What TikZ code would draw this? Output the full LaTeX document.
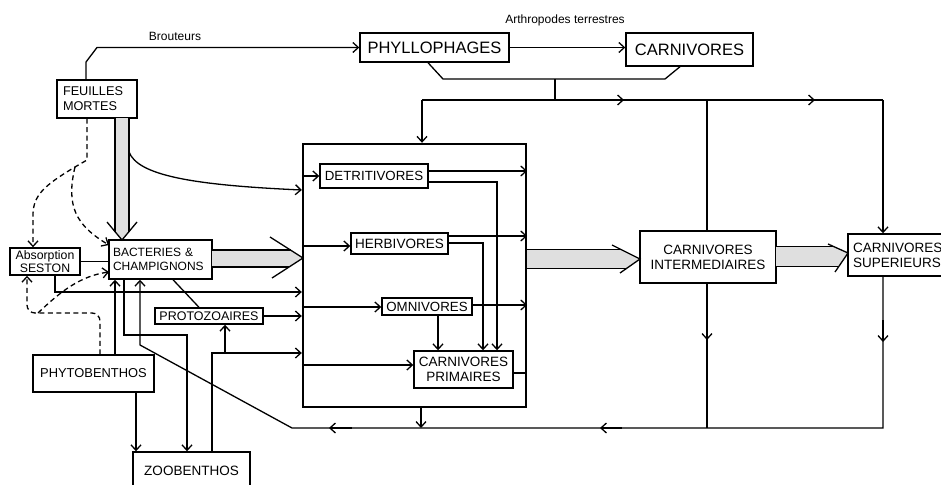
\documentclass[tikz,border=0pt]{standalone}
\usepackage{fontspec}
\setmainfont{Liberation Sans}
\usetikzlibrary{arrows.meta}
\begin{document}
\begin{tikzpicture}[x=1pt,y=-1pt,line width=1.3pt,
  arr/.style={-{Straight Barb[length=5.5pt,width=10pt]}},
  dsh/.style={dash pattern=on 5pt off 3.5pt},
  box/.style={draw, line width=1.4pt, inner sep=0pt, align=center},
  fatfill/.style={fill=gray!25, draw=none},
  fs/.style={font=\fontsize{#1}{15}\selectfont}
]
\useasboundingbox (0,0) rectangle (941,484);

% nodes
\node[box, minimum width=80, minimum height=38, text width=68, inner xsep=6, align=left, font=\fontsize{12.7}{15}\selectfont] (feuilles) at (97,99) {FEUILLES\\MORTES};
\node[box, minimum width=149, minimum height=29, fs=16.5] (phyllo) at (434.5,47.5) {PHYLLOPHAGES};
\node[box, minimum width=127, minimum height=33, fs=16.5] (carn) at (689.5,49.5) {CARNIVORES};
\node[box, minimum width=103, minimum height=39, text width=95, inner xsep=4, align=left, font=\fontsize{12}{14}\selectfont] (bact) at (160.5,259.5) {BACTERIES \&\\CHAMPIGNONS};
\node[box, minimum width=70, minimum height=27, font=\fontsize{12.3}{13}\selectfont] (seston) at (45,261.5) {Absorption\\SESTON};
\node[box, minimum width=108, minimum height=16, fs=12.5] (proto) at (209,316) {PROTOZOAIRES};
\node[box, minimum width=121, minimum height=37, fs=12.9] (phyto) at (93.5,373.5) {PHYTOBENTHOS};
\node[box, minimum width=117, minimum height=38, fs=13.5] (zoo) at (191.5,471) {ZOOBENTHOS};
\node[draw, line width=2.4pt, minimum width=223, minimum height=263, inner sep=0pt] (bigbox) at (414.5,275.5) {};
\node[box, minimum width=108, minimum height=24, fs=13.3] (detri) at (374,176) {DETRITIVORES};
\node[box, minimum width=97, minimum height=21, fs=13.5] (herbi) at (399.5,243.5) {HERBIVORES};
\node[box, minimum width=90, minimum height=17, fs=13.3] (omni) at (427,306.5) {OMNIVORES};
\node[box, minimum width=99, minimum height=37, fs=13.5] (cprim) at (463.5,369.5) {CARNIVORES\\PRIMAIRES};
\node[box, minimum width=136, minimum height=52, fs=13.5] (cinter) at (708,257) {CARNIVORES\\INTERMEDIAIRES};
\node[box, minimum width=102, minimum height=42, text width=92, inner xsep=5, align=left, fs=13.5] (csup) at (899,255) {CARNIVORES\\SUPERIEURS};

\node[fs=12] (brout) at (175,36) {Brouteurs};
\node[fs=12] (arthro) at (565,20) {Arthropodes terrestres};

% top connectors
\draw[arr] (86,0 |- feuilles.north) -- (86,62) -- (97,47.5) -- (phyllo.west);
\draw[arr] (phyllo.east) -- (carn.west |- phyllo.east);
\draw (428,0 |- phyllo.south) -- (443,79) -- (665,79) -- (680,0 |- carn.south);
\draw (555,79) -- (555,100);
\draw (422,100) -- (883,100);
\draw[arr] (600,100) -- (624,100);
\draw[arr] (792,100) -- (815,100);
\draw[arr] (422,100) -- (422,0 |- bigbox.north);
\draw (707,100) -- (707,0 |- cinter.north);
\draw[arr] (883,100) -- (883,0 |- csup.north);

% right and bottom return
\draw (707,0 |- cinter.south) -- (707,428);
\draw[arr] (707,318) -- (707,340);
\draw[arr] (883,0 |- csup.south) -- (883,428) -- (292,428) -- (140,345) -- (140,0 |- bact.south);
\draw[arr] (883,320) -- (883,342);
\draw[arr] (622,428) -- (600,428);
\draw[arr] (352,428) -- (329,428);
\draw[arr] (421,0 |- bigbox.south) -- (421,428);

% inside central box
\draw[arr] (bigbox.west |- detri.west) -- (detri.west);
\draw[arr] (bigbox.west |- 0,246) -- (herbi.west |- 0,246);
\draw[arr] (bigbox.west |- 0,307) -- (omni.west |- 0,307);
\draw[arr] (bigbox.west |- 0,365) -- (cprim.west |- 0,365);
\draw[arr] (detri.east |- 0,171) -- (bigbox.east |- 0,171);
\draw[arr] (detri.east |- 0,182) -- (497,182) -- (497,0 |- cprim.north);
\draw[arr] (herbi.east |- 0,236) -- (bigbox.east |- 0,236);
\draw[arr] (herbi.east |- 0,243) -- (483,243) -- (483,0 |- cprim.north);
\draw[arr] (omni.east |- 0,305) -- (bigbox.east |- 0,305);
\draw[arr] (438,0 |- omni.south) -- (438,0 |- cprim.north);
\draw (cprim.east |- 0,373) -- (bigbox.east |- 0,373);

% left side connectors
\draw[arr] (129,152) .. controls (138,175) and (190,185) .. (bigbox.west |- 0,190);
\draw (seston.east) -- (bact.west |- seston.east);
\draw[arr] (55,0 |- seston.south) -- (55,292) -- (bigbox.west |- 0,292);
\draw (173,0 |- bact.south) -- (199,0 |- proto.north);
\draw[arr] (proto.east) -- (bigbox.west |- proto.east);
\draw[arr] (212,0 |- zoo.north) -- (212,353) -- (bigbox.west |- 0,353);
\draw[arr] (225,353) -- (225,0 |- proto.south);
\draw[arr] (115,0 |- phyto.north) -- (115,0 |- bact.south);
\draw[arr] (124,0 |- bact.south) -- (124,335) -- (187,335) -- (187,0 |- zoo.north);
\draw[arr] (136,0 |- phyto.south) -- (136,0 |- zoo.north);

% dashed
\draw[dsh,arr] (87,0 |- feuilles.south) -- (87,160) -- (75,167) .. controls (45,185) and (33,195) .. (33,215) -- (33,0 |- seston.north);
\draw[dsh,arr] (75,167) .. controls (66,205) and (75,225) .. (109,245);
\draw[dsh,arr,rounded corners=8pt] (100,0 |- phyto.north) -- (100,313) -- (27,313) -- (27,0 |- seston.south);
\draw[dsh,arr] (38,313) .. controls (60,292) and (80,276) .. (109,272);

% big gray arrows
\fill[fatfill] (115,118) -- (129,118) -- (129,231.6) -- (122,240) -- (115,231.6) -- cycle;
\draw (115,118) -- (115,232); \draw (129,118) -- (129,232);
\draw (107,222) -- (122,240) -- (137,222);

\fill[fatfill] (212,250) -- (290.4,250) -- (303,258) -- (289,267) -- (212,267) -- cycle;
\draw (212,250) -- (291,250); \draw (212,267) -- (289,267);
\draw (270,237) -- (303,258) -- (272,278);

\fill[fatfill] (527,249.3) -- (620.6,249.3) -- (640,259) -- (626.7,268.3) -- (527,268.3) -- cycle;
\draw (527,249.3) -- (621,249.3); \draw (527,268.3) -- (627,268.3);
\draw (612,245) -- (640,259) -- (620,273);

\fill[fatfill] (776,246.7) -- (834,246.7) -- (848,253) -- (838.6,266.7) -- (776,266.7) -- cycle;
\draw (776,246.7) -- (834,246.7); \draw (776,266.7) -- (838.6,266.7);
\draw (828,244) -- (848,253) -- (835,272);
\end{tikzpicture}
\end{document}
